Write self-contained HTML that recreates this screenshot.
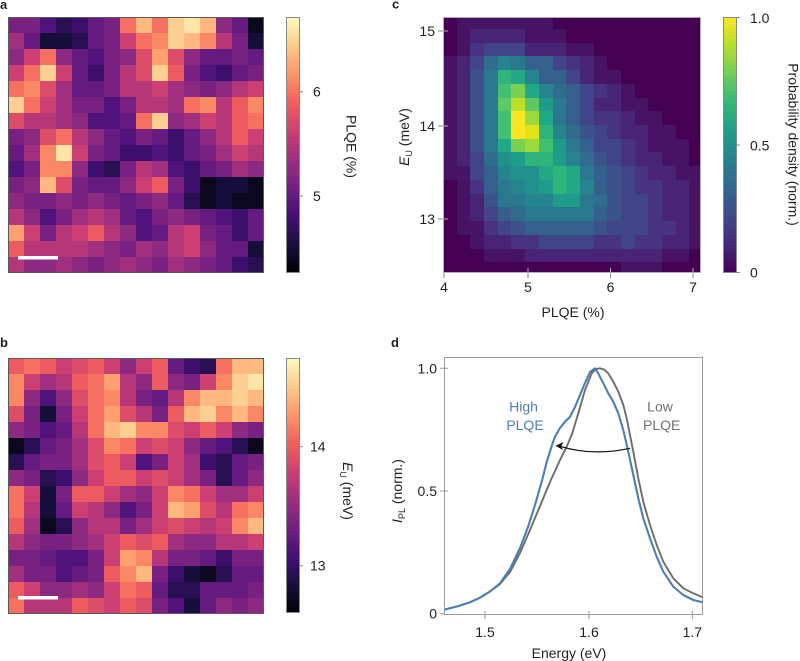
<!DOCTYPE html>
<html><head><meta charset="utf-8"><style>
body{margin:0;width:800px;height:661px;background:#fff;position:relative;overflow:hidden;font-family:"Liberation Sans",Arial,sans-serif}
.g{position:absolute;display:grid}
.g i{display:block}
#ga{left:8px;top:17px;grid-template-columns:repeat(16,16px);grid-template-rows:repeat(16,16px)}
#gb{left:8px;top:358px;grid-template-columns:repeat(16,16px);grid-template-rows:repeat(16,16px)}
#gc{left:443.3px;top:17.5px;grid-template-columns:13.4px repeat(17,13.7px) 11.1px;grid-template-rows:11.5px repeat(17,13.72px) 10px;background:#440154}
svg{position:absolute;left:0;top:0}
.m0{background:#000004}.m1{background:#0b071f}.m2{background:#160e3a}.m3{background:#270f51}.m4{background:#3b0f6b}.m5{background:#501379}.m6{background:#641a7e}.m7{background:#792181}.m8{background:#8c2980}.m9{background:#a0307e}.m10{background:#b53778}.m11{background:#cb3f72}.m12{background:#db4d69}.m13{background:#eb5b60}.m14{background:#f57060}.m15{background:#fb8865}.m16{background:#fda06f}.m17{background:#feb880}.m18{background:#fecf92}.m19{background:#fde6a8}.m20{background:#fcfdbf}
.v0{background:#440154}.v1{background:#471365}.v2{background:#482475}.v3{background:#463480}.v4{background:#414487}.v5{background:#3b528b}.v6{background:#355f8d}.v7{background:#2f6c8e}.v8{background:#2a788e}.v9{background:#25848e}.v10{background:#21918c}.v11{background:#1e9c89}.v12{background:#22a884}.v13{background:#2fb47c}.v14{background:#44bf70}.v15{background:#5ec962}.v16{background:#7ad151}.v17{background:#9bd93c}.v18{background:#bddf26}.v19{background:#dfe318}.v20{background:#fde725}
</style></head><body>

<div class="g" id="ga">
<i class=m7></i><i class=m7></i><i class=m5></i><i class=m3></i><i class=m4></i><i class=m6></i><i class=m7></i><i class=m14></i><i class=m17></i><i class=m14></i><i class=m18></i><i class=m19></i><i class=m17></i><i class=m8></i><i class=m6></i><i class=m1></i>
<i class=m9></i><i class=m6></i><i class=m2></i><i class=m2></i><i class=m3></i><i class=m6></i><i class=m7></i><i class=m11></i><i class=m14></i><i class=m15></i><i class=m18></i><i class=m17></i><i class=m15></i><i class=m10></i><i class=m7></i><i class=m2></i>
<i class=m8></i><i class=m11></i><i class=m14></i><i class=m8></i><i class=m6></i><i class=m5></i><i class=m7></i><i class=m8></i><i class=m12></i><i class=m16></i><i class=m12></i><i class=m8></i><i class=m6></i><i class=m6></i><i class=m7></i><i class=m6></i>
<i class=m11></i><i class=m14></i><i class=m18></i><i class=m11></i><i class=m6></i><i class=m4></i><i class=m7></i><i class=m10></i><i class=m12></i><i class=m18></i><i class=m13></i><i class=m7></i><i class=m5></i><i class=m4></i><i class=m6></i><i class=m7></i>
<i class=m14></i><i class=m15></i><i class=m12></i><i class=m9></i><i class=m6></i><i class=m6></i><i class=m7></i><i class=m10></i><i class=m10></i><i class=m11></i><i class=m9></i><i class=m8></i><i class=m7></i><i class=m8></i><i class=m10></i><i class=m11></i>
<i class=m18></i><i class=m14></i><i class=m11></i><i class=m9></i><i class=m7></i><i class=m7></i><i class=m5></i><i class=m7></i><i class=m10></i><i class=m10></i><i class=m9></i><i class=m14></i><i class=m15></i><i class=m10></i><i class=m13></i><i class=m15></i>
<i class=m12></i><i class=m10></i><i class=m10></i><i class=m9></i><i class=m8></i><i class=m5></i><i class=m5></i><i class=m6></i><i class=m14></i><i class=m18></i><i class=m8></i><i class=m9></i><i class=m11></i><i class=m10></i><i class=m13></i><i class=m14></i>
<i class=m7></i><i class=m8></i><i class=m12></i><i class=m14></i><i class=m10></i><i class=m8></i><i class=m6></i><i class=m5></i><i class=m7></i><i class=m6></i><i class=m4></i><i class=m6></i><i class=m8></i><i class=m10></i><i class=m13></i><i class=m11></i>
<i class=m6></i><i class=m9></i><i class=m15></i><i class=m19></i><i class=m11></i><i class=m7></i><i class=m6></i><i class=m4></i><i class=m4></i><i class=m5></i><i class=m4></i><i class=m6></i><i class=m7></i><i class=m9></i><i class=m11></i><i class=m10></i>
<i class=m5></i><i class=m7></i><i class=m15></i><i class=m15></i><i class=m8></i><i class=m4></i><i class=m3></i><i class=m7></i><i class=m10></i><i class=m9></i><i class=m5></i><i class=m4></i><i class=m6></i><i class=m7></i><i class=m9></i><i class=m8></i>
<i class=m7></i><i class=m8></i><i class=m17></i><i class=m12></i><i class=m7></i><i class=m6></i><i class=m6></i><i class=m8></i><i class=m11></i><i class=m13></i><i class=m7></i><i class=m4></i><i class=m1></i><i class=m2></i><i class=m2></i><i class=m1></i>
<i class=m8></i><i class=m7></i><i class=m7></i><i class=m8></i><i class=m7></i><i class=m8></i><i class=m7></i><i class=m6></i><i class=m7></i><i class=m8></i><i class=m6></i><i class=m3></i><i class=m1></i><i class=m2></i><i class=m1></i><i class=m1></i>
<i class=m10></i><i class=m8></i><i class=m5></i><i class=m7></i><i class=m9></i><i class=m10></i><i class=m9></i><i class=m6></i><i class=m5></i><i class=m7></i><i class=m8></i><i class=m7></i><i class=m6></i><i class=m5></i><i class=m4></i><i class=m6></i>
<i class=m16></i><i class=m11></i><i class=m7></i><i class=m10></i><i class=m11></i><i class=m13></i><i class=m10></i><i class=m8></i><i class=m5></i><i class=m6></i><i class=m10></i><i class=m11></i><i class=m7></i><i class=m6></i><i class=m4></i><i class=m6></i>
<i class=m13></i><i class=m10></i><i class=m10></i><i class=m10></i><i class=m10></i><i class=m9></i><i class=m8></i><i class=m7></i><i class=m9></i><i class=m8></i><i class=m10></i><i class=m11></i><i class=m8></i><i class=m6></i><i class=m6></i><i class=m2></i>
<i class=m10></i><i class=m8></i><i class=m8></i><i class=m9></i><i class=m8></i><i class=m7></i><i class=m8></i><i class=m9></i><i class=m8></i><i class=m7></i><i class=m9></i><i class=m8></i><i class=m7></i><i class=m6></i><i class=m4></i><i class=m3></i>
</div>

<div class="g" id="gb">
<i class=m13></i><i class=m14></i><i class=m13></i><i class=m11></i><i class=m12></i><i class=m13></i><i class=m11></i><i class=m8></i><i class=m11></i><i class=m13></i><i class=m6></i><i class=m4></i><i class=m3></i><i class=m14></i><i class=m17></i><i class=m17></i>
<i class=m15></i><i class=m11></i><i class=m9></i><i class=m10></i><i class=m13></i><i class=m14></i><i class=m16></i><i class=m10></i><i class=m8></i><i class=m13></i><i class=m8></i><i class=m7></i><i class=m11></i><i class=m15></i><i class=m18></i><i class=m19></i>
<i class=m15></i><i class=m8></i><i class=m5></i><i class=m8></i><i class=m12></i><i class=m14></i><i class=m15></i><i class=m10></i><i class=m7></i><i class=m6></i><i class=m10></i><i class=m15></i><i class=m17></i><i class=m17></i><i class=m18></i><i class=m17></i>
<i class=m12></i><i class=m7></i><i class=m2></i><i class=m7></i><i class=m11></i><i class=m14></i><i class=m16></i><i class=m12></i><i class=m10></i><i class=m7></i><i class=m13></i><i class=m17></i><i class=m18></i><i class=m15></i><i class=m17></i><i class=m15></i>
<i class=m8></i><i class=m7></i><i class=m5></i><i class=m6></i><i class=m10></i><i class=m14></i><i class=m17></i><i class=m18></i><i class=m15></i><i class=m15></i><i class=m12></i><i class=m11></i><i class=m13></i><i class=m11></i><i class=m8></i><i class=m7></i>
<i class=m1></i><i class=m3></i><i class=m6></i><i class=m7></i><i class=m9></i><i class=m12></i><i class=m15></i><i class=m14></i><i class=m11></i><i class=m12></i><i class=m11></i><i class=m8></i><i class=m6></i><i class=m5></i><i class=m3></i><i class=m1></i>
<i class=m3></i><i class=m6></i><i class=m7></i><i class=m7></i><i class=m9></i><i class=m12></i><i class=m13></i><i class=m11></i><i class=m5></i><i class=m7></i><i class=m11></i><i class=m9></i><i class=m4></i><i class=m3></i><i class=m6></i><i class=m7></i>
<i class=m8></i><i class=m7></i><i class=m3></i><i class=m4></i><i class=m8></i><i class=m11></i><i class=m13></i><i class=m13></i><i class=m11></i><i class=m12></i><i class=m11></i><i class=m9></i><i class=m7></i><i class=m3></i><i class=m6></i><i class=m8></i>
<i class=m14></i><i class=m11></i><i class=m2></i><i class=m7></i><i class=m13></i><i class=m13></i><i class=m11></i><i class=m9></i><i class=m8></i><i class=m11></i><i class=m15></i><i class=m14></i><i class=m11></i><i class=m9></i><i class=m9></i><i class=m11></i>
<i class=m14></i><i class=m10></i><i class=m2></i><i class=m6></i><i class=m11></i><i class=m10></i><i class=m8></i><i class=m5></i><i class=m7></i><i class=m11></i><i class=m17></i><i class=m16></i><i class=m12></i><i class=m10></i><i class=m14></i><i class=m15></i>
<i class=m13></i><i class=m9></i><i class=m1></i><i class=m3></i><i class=m8></i><i class=m10></i><i class=m10></i><i class=m7></i><i class=m9></i><i class=m11></i><i class=m12></i><i class=m11></i><i class=m10></i><i class=m11></i><i class=m15></i><i class=m17></i>
<i class=m10></i><i class=m8></i><i class=m7></i><i class=m7></i><i class=m8></i><i class=m9></i><i class=m11></i><i class=m13></i><i class=m12></i><i class=m13></i><i class=m9></i><i class=m8></i><i class=m8></i><i class=m10></i><i class=m10></i><i class=m11></i>
<i class=m7></i><i class=m7></i><i class=m6></i><i class=m5></i><i class=m5></i><i class=m7></i><i class=m11></i><i class=m16></i><i class=m15></i><i class=m10></i><i class=m7></i><i class=m7></i><i class=m6></i><i class=m4></i><i class=m7></i><i class=m7></i>
<i class=m9></i><i class=m7></i><i class=m7></i><i class=m5></i><i class=m6></i><i class=m7></i><i class=m13></i><i class=m15></i><i class=m17></i><i class=m7></i><i class=m4></i><i class=m2></i><i class=m1></i><i class=m3></i><i class=m6></i><i class=m6></i>
<i class=m13></i><i class=m11></i><i class=m8></i><i class=m8></i><i class=m9></i><i class=m8></i><i class=m11></i><i class=m14></i><i class=m13></i><i class=m6></i><i class=m3></i><i class=m3></i><i class=m6></i><i class=m6></i><i class=m6></i><i class=m7></i>
<i class=m14></i><i class=m10></i><i class=m10></i><i class=m10></i><i class=m13></i><i class=m12></i><i class=m11></i><i class=m13></i><i class=m12></i><i class=m7></i><i class=m5></i><i class=m2></i><i class=m6></i><i class=m8></i><i class=m7></i><i class=m8></i>
</div>

<div class="g" id="gc">
<i class=v0></i><i class=v1></i><i class=v1></i><i class=v1></i><i class=v1></i><i class=v1></i><i class=v1></i><i class=v1></i><i class=v0></i><i class=v0></i><i class=v0></i><i class=v0></i><i class=v0></i><i class=v0></i><i class=v0></i><i class=v0></i><i class=v0></i><i class=v0></i><i class=v0></i>
<i class=v0></i><i class=v1></i><i class=v2></i><i class=v2></i><i class=v2></i><i class=v2></i><i class=v1></i><i class=v1></i><i class=v1></i><i class=v0></i><i class=v0></i><i class=v0></i><i class=v0></i><i class=v0></i><i class=v0></i><i class=v0></i><i class=v0></i><i class=v0></i><i class=v0></i>
<i class=v0></i><i class=v1></i><i class=v3></i><i class=v4></i><i class=v4></i><i class=v4></i><i class=v2></i><i class=v2></i><i class=v2></i><i class=v1></i><i class=v1></i><i class=v0></i><i class=v0></i><i class=v0></i><i class=v0></i><i class=v0></i><i class=v0></i><i class=v0></i><i class=v0></i>
<i class=v1></i><i class=v2></i><i class=v4></i><i class=v7></i><i class=v9></i><i class=v8></i><i class=v6></i><i class=v6></i><i class=v4></i><i class=v3></i><i class=v2></i><i class=v1></i><i class=v0></i><i class=v0></i><i class=v0></i><i class=v0></i><i class=v0></i><i class=v0></i><i class=v0></i>
<i class=v1></i><i class=v2></i><i class=v5></i><i class=v8></i><i class=v13></i><i class=v12></i><i class=v9></i><i class=v6></i><i class=v6></i><i class=v4></i><i class=v2></i><i class=v1></i><i class=v1></i><i class=v0></i><i class=v0></i><i class=v0></i><i class=v0></i><i class=v0></i><i class=v0></i>
<i class=v1></i><i class=v2></i><i class=v5></i><i class=v8></i><i class=v14></i><i class=v16></i><i class=v12></i><i class=v9></i><i class=v7></i><i class=v6></i><i class=v4></i><i class=v3></i><i class=v2></i><i class=v1></i><i class=v0></i><i class=v0></i><i class=v0></i><i class=v0></i><i class=v0></i>
<i class=v1></i><i class=v2></i><i class=v5></i><i class=v8></i><i class=v15></i><i class=v18></i><i class=v15></i><i class=v11></i><i class=v8></i><i class=v6></i><i class=v4></i><i class=v2></i><i class=v2></i><i class=v1></i><i class=v1></i><i class=v0></i><i class=v0></i><i class=v0></i><i class=v0></i>
<i class=v1></i><i class=v2></i><i class=v5></i><i class=v8></i><i class=v14></i><i class=v20></i><i class=v17></i><i class=v12></i><i class=v8></i><i class=v6></i><i class=v4></i><i class=v3></i><i class=v3></i><i class=v2></i><i class=v1></i><i class=v1></i><i class=v0></i><i class=v0></i><i class=v0></i>
<i class=v1></i><i class=v2></i><i class=v5></i><i class=v8></i><i class=v14></i><i class=v20></i><i class=v19></i><i class=v13></i><i class=v9></i><i class=v7></i><i class=v5></i><i class=v4></i><i class=v3></i><i class=v2></i><i class=v2></i><i class=v1></i><i class=v1></i><i class=v0></i><i class=v0></i>
<i class=v1></i><i class=v2></i><i class=v5></i><i class=v8></i><i class=v12></i><i class=v16></i><i class=v17></i><i class=v14></i><i class=v11></i><i class=v8></i><i class=v6></i><i class=v4></i><i class=v4></i><i class=v3></i><i class=v2></i><i class=v1></i><i class=v1></i><i class=v1></i><i class=v0></i>
<i class=v1></i><i class=v2></i><i class=v4></i><i class=v7></i><i class=v10></i><i class=v11></i><i class=v13></i><i class=v13></i><i class=v11></i><i class=v9></i><i class=v7></i><i class=v5></i><i class=v4></i><i class=v3></i><i class=v2></i><i class=v2></i><i class=v1></i><i class=v1></i><i class=v0></i>
<i class=v1></i><i class=v1></i><i class=v4></i><i class=v6></i><i class=v9></i><i class=v10></i><i class=v10></i><i class=v12></i><i class=v13></i><i class=v12></i><i class=v8></i><i class=v6></i><i class=v5></i><i class=v4></i><i class=v3></i><i class=v2></i><i class=v2></i><i class=v1></i><i class=v1></i>
<i class=v0></i><i class=v1></i><i class=v3></i><i class=v6></i><i class=v8></i><i class=v9></i><i class=v10></i><i class=v11></i><i class=v13></i><i class=v12></i><i class=v9></i><i class=v6></i><i class=v5></i><i class=v4></i><i class=v3></i><i class=v3></i><i class=v2></i><i class=v2></i><i class=v1></i>
<i class=v0></i><i class=v1></i><i class=v2></i><i class=v5></i><i class=v8></i><i class=v8></i><i class=v9></i><i class=v9></i><i class=v11></i><i class=v11></i><i class=v8></i><i class=v7></i><i class=v5></i><i class=v4></i><i class=v4></i><i class=v3></i><i class=v2></i><i class=v2></i><i class=v1></i>
<i class=v0></i><i class=v1></i><i class=v2></i><i class=v4></i><i class=v6></i><i class=v7></i><i class=v8></i><i class=v8></i><i class=v8></i><i class=v8></i><i class=v8></i><i class=v6></i><i class=v5></i><i class=v4></i><i class=v4></i><i class=v3></i><i class=v2></i><i class=v2></i><i class=v1></i>
<i class=v0></i><i class=v1></i><i class=v1></i><i class=v3></i><i class=v4></i><i class=v5></i><i class=v6></i><i class=v6></i><i class=v6></i><i class=v6></i><i class=v6></i><i class=v5></i><i class=v4></i><i class=v4></i><i class=v4></i><i class=v3></i><i class=v3></i><i class=v2></i><i class=v1></i>
<i class=v0></i><i class=v0></i><i class=v1></i><i class=v2></i><i class=v2></i><i class=v3></i><i class=v3></i><i class=v4></i><i class=v4></i><i class=v4></i><i class=v4></i><i class=v3></i><i class=v3></i><i class=v4></i><i class=v3></i><i class=v3></i><i class=v2></i><i class=v2></i><i class=v1></i>
<i class=v0></i><i class=v0></i><i class=v0></i><i class=v1></i><i class=v1></i><i class=v1></i><i class=v2></i><i class=v2></i><i class=v2></i><i class=v2></i><i class=v2></i><i class=v2></i><i class=v2></i><i class=v2></i><i class=v2></i><i class=v2></i><i class=v1></i><i class=v1></i><i class=v0></i>
<i class=v0></i><i class=v0></i><i class=v0></i><i class=v0></i><i class=v0></i><i class=v0></i><i class=v0></i><i class=v0></i><i class=v0></i><i class=v0></i><i class=v0></i><i class=v0></i><i class=v0></i><i class=v1></i><i class=v1></i><i class=v1></i><i class=v0></i><i class=v0></i><i class=v0></i>
</div>

<svg width="800" height="661" viewBox="0 0 800 661" font-family="Liberation Sans, Arial, sans-serif" font-size="14" fill="#231f20">
<defs>
<linearGradient id="mg" x1="0" y1="1" x2="0" y2="0">
<stop offset="0" stop-color="#000004"/><stop offset="0.111" stop-color="#180f3d"/><stop offset="0.222" stop-color="#440f76"/><stop offset="0.333" stop-color="#721f81"/><stop offset="0.444" stop-color="#9e2f7f"/><stop offset="0.556" stop-color="#cd4071"/><stop offset="0.667" stop-color="#f1605d"/><stop offset="0.778" stop-color="#fd9668"/><stop offset="0.889" stop-color="#feca8d"/><stop offset="1" stop-color="#fcfdbf"/>
</linearGradient>
<linearGradient id="vg" x1="0" y1="1" x2="0" y2="0">
<stop offset="0" stop-color="#440154"/><stop offset="0.111" stop-color="#482878"/><stop offset="0.222" stop-color="#3e4989"/><stop offset="0.333" stop-color="#31688e"/><stop offset="0.444" stop-color="#26828e"/><stop offset="0.556" stop-color="#1f9e89"/><stop offset="0.667" stop-color="#35b779"/><stop offset="0.778" stop-color="#6ece58"/><stop offset="0.889" stop-color="#b5de2b"/><stop offset="1" stop-color="#fde725"/>
</linearGradient>
<clipPath id="cd"><rect x="444.5" y="357.5" width="258" height="257"/></clipPath>
</defs>

<!-- panel labels -->
<text x="0" y="9" font-weight="bold" font-size="13">a</text>
<text x="0" y="347" font-weight="bold" font-size="13">b</text>
<text x="392" y="8.5" font-weight="bold" font-size="13">c</text>
<text x="391" y="347" font-weight="bold" font-size="13">d</text>

<!-- panel a -->
<rect x="8.5" y="17.5" width="255" height="255" fill="none" stroke="#5a5a5a"/>
<rect x="18" y="256" width="40" height="3.5" fill="#fff"/>
<rect x="286" y="17" width="14" height="256" fill="url(#mg)"/>
<rect x="286.5" y="17.5" width="13" height="255" fill="none" stroke="#888"/>
<path d="M300 91.7h3M300 196h3" stroke="#888"/>
<text x="313" y="96.5">6</text>
<text x="313" y="201">5</text>
<text transform="translate(351.7,146.5) rotate(90)" y="5" text-anchor="middle">PLQE (%)</text>

<!-- panel b -->
<rect x="8.5" y="358.5" width="255" height="255" fill="none" stroke="#5a5a5a"/>
<rect x="18" y="596" width="40" height="3.5" fill="#fff"/>
<rect x="286" y="358" width="14" height="255" fill="url(#mg)"/>
<rect x="286.5" y="358.5" width="13" height="254" fill="none" stroke="#888"/>
<path d="M300 446.7h3M300 565.7h3" stroke="#888"/>
<text x="310" y="451.5">14</text>
<text x="310" y="570.5">13</text>
<text transform="translate(348,491) rotate(90)" y="5" text-anchor="middle"><tspan font-style="italic">E</tspan><tspan font-size="9" dy="3">U</tspan><tspan dy="-3"> (meV)</tspan></text>

<!-- panel c -->
<rect x="443.5" y="17.5" width="257" height="255" fill="none" stroke="#b0b0b0"/>
<path d="M438 31h5M438 126h5M438 219h5M444 273v5M528 273v5M610.5 273v5M693 273v5" stroke="#888"/>
<path d="M444 31h4M444 126h4M444 219h4M528 272v-4M610.5 272v-4M693 272v-4" stroke="#ddd" stroke-width="0.8"/>
<text x="435" y="36" text-anchor="end">15</text>
<text x="435" y="131" text-anchor="end">14</text>
<text x="435" y="224" text-anchor="end">13</text>
<text x="444" y="292" text-anchor="middle">4</text>
<text x="528" y="292" text-anchor="middle">5</text>
<text x="610.5" y="292" text-anchor="middle">6</text>
<text x="693" y="292" text-anchor="middle">7</text>
<text x="573" y="317" text-anchor="middle">PLQE (%)</text>
<text transform="translate(404,137) rotate(-90)" y="5" text-anchor="middle"><tspan font-style="italic">E</tspan><tspan font-size="9" dy="3">U</tspan><tspan dy="-3"> (meV)</tspan></text>
<rect x="723" y="17" width="14" height="256" fill="url(#vg)"/>
<rect x="723.5" y="17.5" width="13" height="255" fill="none" stroke="#888"/>
<path d="M737 17.5h3M737 145h3M737 272.5h3" stroke="#888"/>
<text x="750" y="23">1.0</text>
<text x="750" y="150.5">0.5</text>
<text x="750" y="277.7">0</text>
<text transform="translate(793.3,144.5) rotate(90)" y="5" text-anchor="middle">Probability density (norm.)</text>

<!-- panel d -->
<rect x="444.5" y="357.5" width="258" height="257" fill="none" stroke="#9a9a9a"/>
<path d="M440 368.3h8M440 491h8M440 613.7h4M485 611v8M589 611v8M692.3 611v8" stroke="#9a9a9a"/>
<text x="437" y="373.3" text-anchor="end">1.0</text>
<text x="437" y="496" text-anchor="end">0.5</text>
<text x="437" y="618.5" text-anchor="end">0</text>
<text x="485" y="637" text-anchor="middle">1.5</text>
<text x="589" y="637" text-anchor="middle">1.6</text>
<text x="692.3" y="637" text-anchor="middle">1.7</text>
<text x="569" y="658" text-anchor="middle">Energy (eV)</text>
<text transform="translate(397,491) rotate(-90)" y="5" text-anchor="middle"><tspan font-style="italic">I</tspan><tspan font-size="9" dy="3">PL</tspan><tspan dy="-3"> (norm.)</tspan></text>

<g clip-path="url(#cd)" fill="none" stroke-linejoin="round" stroke-linecap="round">
<polyline stroke="#6b6d70" stroke-width="1.9" points="445,609.5 456.7,606.5 470,602.3 480,597.7 490,591.5 500,584 510,572 520,553 530,530 540,506 550,482 560,460 566.7,446.7 572,434 578.3,413.3 585,390 591.7,373.3 596,369 600,368.3 604,369.5 608,373 613.3,381.7 618.3,391.7 623.3,405 626.7,418.3 630,435 633.3,451.7 638.3,478.3 643.3,501.7 650,525 656.7,545 663.3,561.7 673.3,578.3 683.3,588.3 693.3,593.3 704,597.8"/>
<polyline stroke="#4e7fb3" stroke-width="2.1" points="445,609.5 456.7,606.5 470,602.3 480,597.7 490,591.5 500,583.3 510,569 520,548 528,527 535,505 541.7,481.7 546.7,462 551.7,446 555,436.7 560,428 565,421.7 570,416.7 575,407 580,395 585,383 590,372 595,368.3 598.3,373.3 603.3,383.3 608.3,393.3 613.3,401.7 618.3,413.3 623.3,430 628.3,451.7 633.3,475 638.3,498.3 643.3,518.3 650,538.3 656.7,556.7 663.3,571.7 673.3,586.7 683.3,595 693.3,600 704,602.6"/>
</g>
<path d="M630 448.3Q592.7 456.4 560 446.3" fill="none" stroke="#111" stroke-width="1.2"/>
<path d="M555.5 445.8L563.5 442L561 446.4L563.3 450.2Z" fill="#111"/>
<g fill="#4e7fb3" text-anchor="middle">
<text x="523.5" y="411.5">High</text>
<text x="525" y="430">PLQE</text>
</g>
<g fill="#6e7073" text-anchor="middle">
<text x="660" y="411.5">Low</text>
<text x="661.7" y="430">PLQE</text>
</g>
</svg>
</body></html>
